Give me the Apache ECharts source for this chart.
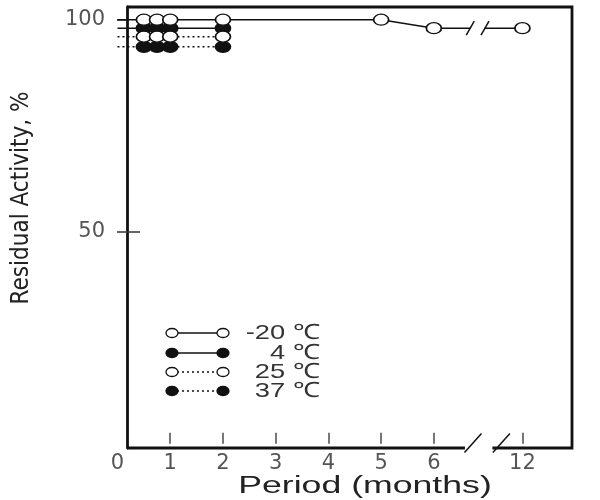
<!DOCTYPE html>
<html>
<head>
<meta charset="utf-8">
<script src="https://cdn.jsdelivr.net/npm/echarts@6/dist/echarts.min.js"></script>
<style>
  html, body { margin: 0; padding: 0; background: #fff; }
  #chart { width: 600px; height: 500px; }
</style>
</head>
<body>
<div id="chart"></div>
<script>
// sampling times in months (0 is only where each line starts, no marker there)
const monthsShort = [0, 0.5, 0.75, 1, 2]
const monthsLong = [0, 0.5, 0.75, 1, 2, 5, 6, 12]

// residual activity, %
const actMinus20 = [100, 100, 100, 100, 100, 100, 98, 98]
const act4 = [98, 98, 98, 98, 98]
const act25 = [96, 96, 96, 96, 96]
const act37 = [93.6, 93.6, 93.6, 93.6, 93.6]

const xTickMonths = [1, 2, 3, 4, 5, 6, 12]
const xLabelMonths = [0, 1, 2, 3, 4, 5, 6, 12]
const yTickValues = [50, 100]
const legendNames = ['-20 ℃', '4 ℃', '25 ℃', '37 ℃']

// the axis is broken between 6 and 12 months: that span is squeezed
const breakFrom = 6
const breakTo = 12
const breakWidth = 1.68
const xPos = m => m <= breakFrom ? m : breakFrom + (m - breakFrom) / (breakTo - breakFrom) * breakWidth
const xMonth = p => p <= breakFrom ? p : breakFrom + (p - breakFrom) / breakWidth * (breakTo - breakFrom)

const font = 'Liberation Sans, Arial, sans-serif'
const tickFont = 'DejaVu Sans, sans-serif'
const ink = '#111'

const toPoints = (months, vals) => months.map((m, i) => {
  const d = { value: [xPos(m), vals[i]] }
  if (m === 0) d.symbol = 'none'
  return d
})

const makeSeries = (name, months, vals, filled, dotted, z) => ({
  name: name,
  type: 'line',
  data: toPoints(months, vals),
  symbol: 'circle',
  symbolSize: [15, 11],
  showAllSymbol: true,
  clip: false,
  z: z,
  lineStyle: { color: ink, width: 1.5, type: dotted ? [2, 3] : 'solid' },
  itemStyle: { color: filled ? ink : '#fff', borderColor: ink, borderWidth: 1.5 },
  emphasis: { disabled: true }
})

const chart = echarts.init(document.getElementById('chart'))

chart.setOption({
  animation: false,
  grid: { left: 117.5, right: 28, top: 7, bottom: 52 },
  xAxis: [
    {
      type: 'value',
      min: 0,
      max: 8.62,
      axisLine: { show: false },
      axisTick: { show: false },
      splitLine: { show: false },
      axisLabel: {
        customValues: xLabelMonths.map(xPos),
        formatter: v => String(Math.round(xMonth(v))),
        margin: 5,
        fontSize: 21,
        fontFamily: tickFont,
        color: '#555'
      }
    },
    {
      type: 'value',
      position: 'bottom',
      offset: -4,
      min: 0,
      max: 8.62,
      axisLine: { show: false },
      axisLabel: { show: false },
      splitLine: { show: false },
      axisTick: {
        show: true,
        inside: true,
        length: 11,
        customValues: xTickMonths.map(xPos),
        lineStyle: { color: '#777', width: 2 }
      }
    }
  ],
  yAxis: [
    {
      type: 'value',
      min: -1,
      max: 103,
      offset: -9.5,
      axisLine: { show: true, lineStyle: { color: ink, width: 2.8 } },
      axisTick: { show: true, length: 10, customValues: yTickValues, lineStyle: { color: '#333', width: 1.5 } },
      splitLine: { show: false },
      axisLabel: {
        customValues: yTickValues,
        margin: 22,
        fontSize: 21,
        fontFamily: tickFont,
        color: '#555'
      }
    },
    {
      type: 'value',
      position: 'left',
      min: -1,
      max: 103,
      offset: -9.5,
      axisLine: { show: false },
      axisLabel: { show: false },
      splitLine: { show: false },
      axisTick: { show: true, inside: true, length: 13, customValues: [50], lineStyle: { color: '#333', width: 1.5 } }
    }
  ],
  series: [
    makeSeries('37 ℃', monthsShort, act37, true, true, 2),
    makeSeries('4 ℃', monthsShort, act4, true, false, 3),
    makeSeries('25 ℃', monthsShort, act25, false, true, 4),
    makeSeries('-20 ℃', monthsLong, actMinus20, false, false, 5)
  ]
})

// frame, axis break and legend drawn on top, placed through the grid scales
const px = (x, y) => chart.convertToPixel({ gridIndex: 0 }, [x, y])
const frameLeft = px(0.18, 0)[0]
const frameRight = px(8.62, 0)[0]
const frameTop = px(0, 103)[1]
const frameBottom = px(0, -1)[1]
const gapL = px(6.59, 0)[0]
const gapR = px(7.11, 0)[0]
const lineY = px(0, actMinus20[actMinus20.length - 1])[1]
const lbL = px(6.69, 0)[0]
const lbR = px(6.97, 0)[0]

const frame = { stroke: ink, lineWidth: 2.8 }
const slash = (x, y, w, h) => ({
  type: 'line', z: 20,
  shape: { x1: x - w, y1: y + h, x2: x + w, y2: y - h },
  style: { stroke: ink, lineWidth: 1.5 }
})

const legendRows = [333, 353, 372, 391]
const legendItems = []
legendNames.forEach((name, i) => {
  const y = legendRows[i]
  const filled = i === 1 || i === 3
  const dotted = i >= 2
  legendItems.push({
    type: 'line', z: 20,
    shape: { x1: 172, y1: y, x2: 223, y2: y },
    style: { stroke: ink, lineWidth: 1.5, lineDash: dotted ? [2, 3] : null }
  })
  ;[172, 223].forEach(cx => legendItems.push({
    type: 'ellipse', z: 21,
    shape: { cx: cx, cy: y, rx: 6, ry: 4.5 },
    style: { fill: filled ? ink : '#fff', stroke: ink, lineWidth: 1.3 }
  }))
  legendItems.push({
    type: 'text', z: 21,
    x: 320, y: y, scaleX: 1.3,
    style: { text: name, align: 'right', verticalAlign: 'middle', fontSize: 21, fontFamily: font, fill: '#333' }
  })
})

chart.setOption({
  graphic: [
    { type: 'polyline', z: 20, shape: { points: [[frameLeft, frameTop], [frameRight, frameTop], [frameRight, frameBottom], [gapR, frameBottom]] }, style: frame },
    { type: 'line', z: 20, shape: { x1: frameLeft, y1: frameBottom, x2: gapL, y2: frameBottom }, style: frame },
    slash(gapL + 8, frameBottom - 5, 8.5, 9.5),
    slash(gapR + 9, frameBottom - 5, 8.5, 9.5),
    { type: 'rect', z: 19, shape: { x: lbL, y: lineY - 4, width: lbR - lbL, height: 8 }, style: { fill: '#fff' } },
    slash(lbL, lineY, 4, 7),
    slash(lbR, lineY, 4, 7),
    {
      type: 'text', z: 20,
      x: 365, y: 487, scaleX: 1.55,
      style: { text: 'Period (months)', align: 'center', verticalAlign: 'middle', fontSize: 23, fontFamily: font, fill: '#222' }
    },
    {
      type: 'text', z: 20,
      x: 22, y: 198, rotation: Math.PI / 2,
      style: { text: 'Residual Activity, %', align: 'center', verticalAlign: 'middle', fontSize: 24, fontFamily: 'Liberation Sans Narrow, DejaVu Sans Condensed, sans-serif', fill: '#222' }
    }
  ].concat(legendItems)
})
</script>
</body>
</html>
